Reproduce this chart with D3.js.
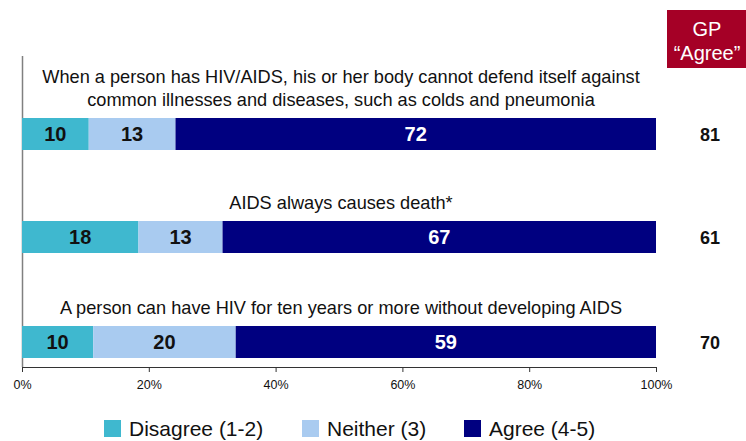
<!DOCTYPE html>
<html>
<head>
<meta charset="utf-8">
<script src="https://cdn.jsdelivr.net/npm/d3@7"></script>
<style>
  body { margin: 0; background: #fff; }
  svg { font-family: "Liberation Sans Narrow", "Arial Narrow", "Liberation Sans", Arial, sans-serif; }
</style>
</head>
<body>
<div id="chart"></div>
<script>
// data
const questions = [
  ["When a person has HIV/AIDS, his or her body cannot defend itself against", "common illnesses and diseases, such as colds and pneumonia"],
  ["AIDS always causes death*"],
  ["A person can have HIV for ten years or more without developing AIDS"]
];
const disagree = [10, 18, 10];
const neither = [13, 13, 20];
const agree = [72, 67, 59];
const gpAgree = [81, 61, 70];
const seriesNames = ["Disagree (1-2)", "Neither (3)", "Agree (4-5)"];
const colors = ["#3fb8cf", "#a9cbf0", "#000080"];
const xTicks = [0, 0.2, 0.4, 0.6, 0.8, 1];

const width = 746, height = 441;
const margin = { left: 22, right: 90 };

const svg = d3.select("#chart").append("svg")
  .attr("width", width).attr("height", height);

const rows = questions.map((q, i) => ({ i, d: disagree[i], n: neither[i], a: agree[i] }));
const keys = ["d", "n", "a"];
const stack = d3.stack().keys(keys).offset(d3.stackOffsetExpand)(rows);

const x = d3.scaleLinear().domain([0, 1]).range([margin.left, width - margin.right]);
// bar rows
const barTop = [118, 221, 326];
const y = d3.scaleOrdinal().domain([0, 1, 2]).range(barTop);
const barH = 32;

// y axis line
svg.append("line")
  .attr("x1", x(0) + 0.5).attr("x2", x(0) + 0.5)
  .attr("y1", 56).attr("y2", 367)
  .attr("stroke", "#808080").attr("stroke-width", 1.5);

// x axis
const xAxis = d3.axisBottom(x).tickValues(xTicks).tickFormat(d3.format(".0%")).tickSize(5).tickSizeOuter(5);
const gx = svg.append("g").attr("transform", "translate(0,367)").call(xAxis);
gx.select(".domain").attr("stroke", "#333");
gx.selectAll(".tick line").attr("stroke", "#333");
gx.selectAll(".tick text").attr("font-size", 12.5).attr("font-family", "Liberation Sans, Arial, sans-serif")
  .attr("fill", "#111").attr("dy", "1.15em");

// bars
stack.forEach((s, k) => {
  svg.append("g").selectAll("rect").data(s).join("rect")
    .attr("x", d => x(d[0]))
    .attr("width", d => x(d[1]) - x(d[0]))
    .attr("y", d => y(d.data.i))
    .attr("height", barH)
    .attr("fill", colors[k]);

  svg.append("g").selectAll("text").data(s).join("text")
    .attr("x", d => (x(d[0]) + x(d[1])) / 2)
    .attr("y", d => y(d.data.i) + barH / 2 + 7)
    .attr("text-anchor", "middle")
    .attr("font-family", "Liberation Sans, Arial, sans-serif")
    .attr("font-weight", "bold")
    .attr("font-size", 20)
    .attr("fill", k === 2 ? "#fff" : "#111")
    .text(d => d.data[keys[k]]);
});

// question labels
questions.forEach((q, i) => {
  const t = svg.append("text")
    .attr("x", 340)
    .attr("text-anchor", "middle")
    .attr("font-size", 18.2)
    .attr("fill", "#111");
  q.forEach((line, j) => {
    t.append("tspan").attr("x", 341)
      .attr("y", y(i) - 12 - (q.length - 1 - j) * 23)
      .text(line);
  });
});

// GP header
svg.append("rect").attr("x", 667).attr("y", 10).attr("width", 79).attr("height", 58).attr("fill", "#a50026");
svg.append("text").attr("x", 707).attr("y", 36).attr("text-anchor", "middle")
  .attr("fill", "#fff").attr("font-size", 20).text("GP");
svg.append("text").attr("x", 707).attr("y", 60).attr("text-anchor", "middle")
  .attr("fill", "#fff").attr("font-size", 20).text("\u201CAgree\u201D");

// GP values
svg.append("g").selectAll("text").data(gpAgree).join("text")
  .attr("x", 710)
  .attr("y", (d, i) => y(i) + barH / 2 + 7)
  .attr("text-anchor", "middle")
  .attr("font-family", "Liberation Sans, Arial, sans-serif")
  .attr("font-weight", "bold")
  .attr("font-size", 18)
  .attr("fill", "#111")
  .text(d => d);

// legend
const legendX = [104, 302, 464];
const lg = svg.append("g").selectAll("g").data(seriesNames).join("g")
  .attr("transform", (d, i) => `translate(${legendX[i]},420)`);
lg.append("rect").attr("width", 17).attr("height", 17).attr("fill", (d, i) => colors[i]);
lg.append("text").attr("x", 25).attr("y", 16).attr("font-size", 21).attr("fill", "#111").text(d => d);
</script>
</body>
</html>
